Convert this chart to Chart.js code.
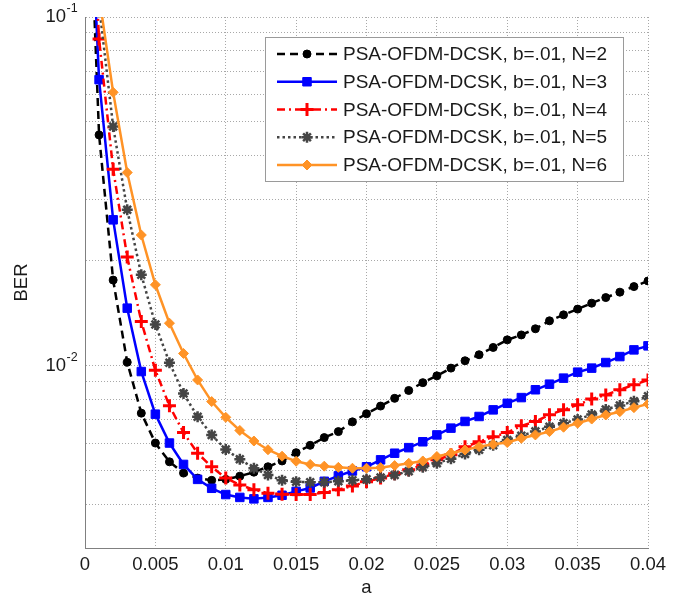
<!DOCTYPE html>
<html>
<head>
<meta charset="utf-8">
<script src="https://cdn.jsdelivr.net/npm/chart.js@4.4.1/dist/chart.umd.min.js"></script>
<style>
  html, body { margin: 0; padding: 0; background: #fff; }
  #wrap { width: 694px; height: 602px; }
</style>
</head>
<body>
<div id="wrap"><canvas id="berChart" width="694" height="602"></canvas></div>
<script>
// a values (x axis)
const aValues = [0, 0.001, 0.002, 0.003, 0.004, 0.005, 0.006, 0.007, 0.008, 0.009,
  0.010, 0.011, 0.012, 0.013, 0.014, 0.015, 0.016, 0.017, 0.018, 0.019,
  0.020, 0.021, 0.022, 0.023, 0.024, 0.025, 0.026, 0.027, 0.028, 0.029,
  0.030, 0.031, 0.032, 0.033, 0.034, 0.035, 0.036, 0.037, 0.038, 0.039, 0.040];

// BER for each N
const berN2 = [0.5, 0.0459, 0.0176, 0.01023, 0.00731, 0.00600, 0.00530, 0.00492, 0.00476, 0.00469,
  0.00472, 0.00482, 0.00495, 0.00513, 0.00533, 0.00563, 0.00591, 0.00622, 0.00647, 0.00690,
  0.00728, 0.00766, 0.00806, 0.00849, 0.00894, 0.00935, 0.00984, 0.01033, 0.01075, 0.01128,
  0.01186, 0.01225, 0.01276, 0.01345, 0.01399, 0.01453, 0.01511, 0.01568, 0.01625, 0.01686, 0.01750];
const berN3 = [0.5, 0.0661, 0.0262, 0.01462, 0.00962, 0.00726, 0.00600, 0.00521, 0.00472, 0.00445,
  0.00427, 0.00419, 0.00415, 0.00419, 0.00425, 0.00436, 0.00446, 0.00466, 0.00483, 0.00499,
  0.00513, 0.00537, 0.00561, 0.00582, 0.00605, 0.00633, 0.00662, 0.00692, 0.00715, 0.00747,
  0.00780, 0.00810, 0.00853, 0.00885, 0.00921, 0.00958, 0.00984, 0.01021, 0.01062, 0.01110, 0.01140];
const berN4 = [0.5, 0.0865, 0.0366, 0.0205, 0.01339, 0.00970, 0.00767, 0.00643, 0.00561, 0.00513,
  0.00476, 0.00455, 0.00441, 0.00431, 0.00428, 0.00427, 0.00427, 0.00433, 0.00441, 0.00452,
  0.00465, 0.00476, 0.00490, 0.00503, 0.00519, 0.00537, 0.00555, 0.00585, 0.00605, 0.00625,
  0.00643, 0.00672, 0.00692, 0.00723, 0.00747, 0.00772, 0.00802, 0.00824, 0.00853, 0.00881, 0.00910];
const berN5 = [0.5, 0.108, 0.0485, 0.0280, 0.01823, 0.01313, 0.01020, 0.00832, 0.00714, 0.00633,
  0.00575, 0.00539, 0.00508, 0.00486, 0.00469, 0.00465, 0.00463, 0.00463, 0.00466, 0.00469,
  0.00472, 0.00478, 0.00486, 0.00498, 0.00511, 0.00525, 0.00541, 0.00558, 0.00574, 0.00591,
  0.00612, 0.00630, 0.00648, 0.00668, 0.00684, 0.00701, 0.00724, 0.00749, 0.00769, 0.00791, 0.00817];
const berN6 = [0.5, 0.115, 0.0608, 0.0358, 0.0237, 0.01706, 0.01324, 0.01084, 0.00910, 0.00789,
  0.00711, 0.00652, 0.00608, 0.00574, 0.00550, 0.00532, 0.00521, 0.00515, 0.00511, 0.00508,
  0.00508, 0.00510, 0.00517, 0.00525, 0.00533, 0.00549, 0.00561, 0.00573, 0.00586, 0.00595,
  0.00602, 0.00619, 0.00633, 0.00647, 0.00666, 0.00684, 0.00703, 0.00722, 0.00738, 0.00758, 0.00776];

const seriesLabels = [
  'PSA-OFDM-DCSK, b=.01, N=2',
  'PSA-OFDM-DCSK, b=.01, N=3',
  'PSA-OFDM-DCSK, b=.01, N=4',
  'PSA-OFDM-DCSK, b=.01, N=5',
  'PSA-OFDM-DCSK, b=.01, N=6'
];

// ticks
const xTicks = [0, 0.005, 0.01, 0.015, 0.02, 0.025, 0.03, 0.035, 0.04];
const xTickLabels = ['0', '0.005', '0.01', '0.015', '0.02', '0.025', '0.03', '0.035', '0.04'];
const yTicks = [0.003, 0.004, 0.005, 0.006, 0.007, 0.008, 0.009,
  0.01, 0.02, 0.03, 0.04, 0.05, 0.06, 0.07, 0.08, 0.09, 0.1];
const yDecades = [0.1, 0.01];
const yDecadeExps = ['-1', '-2'];

const FONT = '"Liberation Sans", Arial, Helvetica, sans-serif';
const TEXT = '#1a1a1a';
const GRID = '#a8a8a8';

function pts(series) {
  return aValues.map((a, i) => ({ x: a, y: series[i] }));
}

// y-axis decade labels with superscript exponent
const decadeLabels = {
  id: 'decadeLabels',
  afterDraw(chart) {
    const ctx = chart.ctx;
    const y = chart.scales.y;
    ctx.save();
    ctx.fillStyle = TEXT;
    ctx.textBaseline = 'middle';
    yDecades.forEach((v, i) => {
      const py = y.getPixelForValue(v);
      ctx.font = '18.5px ' + FONT;
      ctx.textAlign = 'right';
      ctx.fillText('10', 66, py);
      ctx.font = '12.5px ' + FONT;
      ctx.textAlign = 'left';
      ctx.fillText(yDecadeExps[i], 66.5, py - 8.5);
    });
    ctx.restore();
  }
};

// boxed legend in the top right, matlab style
const boxLegend = {
  id: 'boxLegend',
  afterDraw(chart) {
    const ctx = chart.ctx;
    const left = 265, top = 37, right = 623, bottom = 181;
    ctx.save();
    ctx.fillStyle = '#fff';
    ctx.fillRect(left, top, right - left, bottom - top);
    ctx.strokeStyle = '#9a9a9a';
    ctx.lineWidth = 1;
    ctx.strokeRect(left + 0.5, top + 0.5, right - left, bottom - top);

    chart.data.datasets.forEach((ds, i) => {
      const cy = 54 + i * 27.75;
      ctx.strokeStyle = ds.borderColor;
      ctx.lineWidth = ds.borderWidth;
      ctx.setLineDash(ds.borderDash || []);
      ctx.beginPath();
      ctx.moveTo(277, cy);
      ctx.lineTo(337, cy);
      ctx.stroke();
      ctx.setLineDash([]);

      ctx.fillStyle = ds.pointBackgroundColor;
      ctx.strokeStyle = ds.pointBorderColor;
      ctx.lineWidth = ds.pointBorderWidth;
      Chart.helpers.drawPoint(ctx, {
        pointStyle: ds.pointStyle,
        radius: ds.pointRadius,
        borderWidth: ds.pointBorderWidth,
        rotation: 0
      }, 307, cy);

      ctx.fillStyle = TEXT;
      ctx.font = '19px ' + FONT;
      ctx.textAlign = 'left';
      ctx.textBaseline = 'middle';
      ctx.fillText(ds.label, 343, cy + 1);
    });
    ctx.restore();
  }
};

const ctx = document.getElementById('berChart').getContext('2d');
new Chart(ctx, {
  type: 'line',
  data: {
    datasets: [
      {
        label: seriesLabels[0], data: pts(berN2), order: 4,
        borderColor: '#000000', borderWidth: 2.5, borderDash: [8, 5],
        pointStyle: 'circle', pointRadius: 4,
        pointBackgroundColor: '#000000', pointBorderColor: '#000000', pointBorderWidth: 1
      },
      {
        label: seriesLabels[1], data: pts(berN3), order: 3,
        borderColor: '#0000ff', borderWidth: 2.5,
        pointStyle: 'rect', pointRadius: 6,
        pointBackgroundColor: '#0000ff', pointBorderColor: '#0000ff', pointBorderWidth: 1
      },
      {
        label: seriesLabels[2], data: pts(berN4), order: 2,
        borderColor: '#ff0000', borderWidth: 2.5, borderDash: [8, 4, 2, 4],
        pointStyle: 'cross', pointRadius: 6.5,
        pointBackgroundColor: '#ff0000', pointBorderColor: '#ff0000', pointBorderWidth: 3
      },
      {
        label: seriesLabels[3], data: pts(berN5), order: 1,
        borderColor: '#454545', borderWidth: 2.5, borderDash: [2.5, 3],
        pointStyle: 'star', pointRadius: 5.5,
        pointBackgroundColor: '#454545', pointBorderColor: '#454545', pointBorderWidth: 2.5
      },
      {
        label: seriesLabels[4], data: pts(berN6), order: 0,
        borderColor: '#ff9326', borderWidth: 2.5,
        pointStyle: 'rectRot', pointRadius: 5,
        pointBackgroundColor: '#ff9326', pointBorderColor: '#ff9326', pointBorderWidth: 1
      }
    ]
  },
  options: {
    responsive: false,
    animation: false,
    events: [],
    layout: { padding: { top: 17, right: 46, left: 0, bottom: 0 } },
    elements: { line: { tension: 0 } },
    plugins: {
      legend: { display: false },
      tooltip: { enabled: false }
    },
    scales: {
      x: {
        type: 'linear',
        min: 0,
        max: 0.04,
        afterBuildTicks: s => { s.ticks = xTicks.map(v => ({ value: v })); },
        afterFit: s => { s.height = 54; },
        ticks: {
          autoSkip: false,
          maxRotation: 0,
          padding: 6,
          color: TEXT,
          font: { family: FONT, size: 18.5 },
          callback: (v, i) => xTickLabels[i]
        },
        grid: { color: GRID, lineWidth: 1, drawTicks: false },
        border: { display: true, color: '#808080', width: 1, dash: [1, 2] },
        title: {
          display: true, text: 'a', color: TEXT,
          font: { family: FONT, size: 18.5 },
          padding: { top: 0, bottom: 3 }
        }
      },
      y: {
        type: 'logarithmic',
        min: 0.003,
        max: 0.1,
        afterBuildTicks: s => { s.ticks = yTicks.map(v => ({ value: v })); },
        afterFit: s => { s.width = 85; },
        ticks: { autoSkip: false, callback: () => '' },
        grid: { color: GRID, lineWidth: 1, drawTicks: false },
        border: { display: true, color: '#808080', width: 1, dash: [1, 2] },
        title: {
          display: true, text: 'BER', color: TEXT,
          font: { family: FONT, size: 18.5 },
          padding: { top: 11, bottom: 0 }
        }
      }
    }
  },
  plugins: [decadeLabels, boxLegend]
});
</script>
</body>
</html>
